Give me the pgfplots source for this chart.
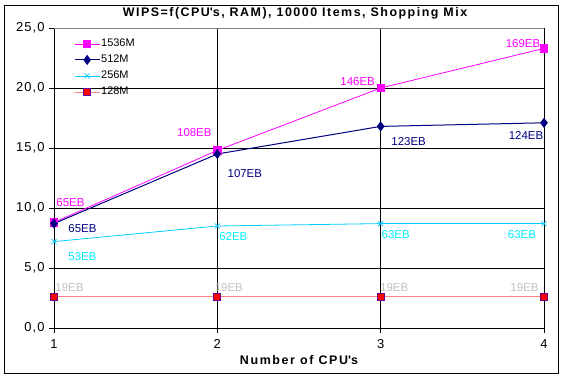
\documentclass[border=0pt]{standalone}
\usepackage{fontspec}
\setmainfont{Liberation Sans}
\usepackage{pgfplots}
\usepackage{pgfplotstable}
\pgfplotsset{compat=1.18}
\definecolor{cmag}{HTML}{FF00FF}
\definecolor{cnavy}{HTML}{000080}
\definecolor{ccyanl}{HTML}{00CCFF}
\definecolor{ccyant}{HTML}{00EEFF}
\definecolor{csalm}{HTML}{FF8080}
\definecolor{cred}{HTML}{FF0000}
\definecolor{cpurp}{HTML}{660099}
\definecolor{cgrayt}{HTML}{C0C0C0}
\definecolor{cborder}{HTML}{808080}
\newcommand\lbfont{\fontsize{11.5}{13}\selectfont}

\pgfplotstableread{
x y lab dx dy
1 8.8 65EB 16.5 20
2 14.8 108EB -23 18
3 20.0 146EB -23 6
4 23.3 169EB -21 5
}\tA
\pgfplotstableread{
x y lab dx dy
1 8.7 65EB 28.5 -5
2 14.5 107EB 27.5 -20
3 16.8 123EB 28 -15
4 17.1 124EB -18 -13
}\tB
\pgfplotstableread{
x y lab dx dy
1 7.2 53EB 28.5 -15
2 8.5 62EB 16 -11
3 8.7 63EB 15 -11
4 8.7 63EB -22 -11
}\tC
\pgfplotstableread{
x y lab dx dy
1 2.6 19EB 15.5 9
2 2.6 19EB 11.5 9
3 2.6 19EB 13.5 9
4 2.6 19EB -19.5 9
}\tD

\begin{document}
\begin{tikzpicture}
\begin{axis}[
  name=ax,
  scale only axis, width=490bp, height=300bp,
  xmin=1, xmax=4, ymin=0, ymax=25,
  xtick={1,2,3,4}, ytick={0,5,10,15,20,25},
  xmajorgrids, ymajorgrids,
  grid style={black, line width=0.8bp},
  axis x line*=bottom, axis y line*=left,
  axis line style={black, line width=0.8bp, -},
  tick style={black, line width=0.8bp},
  tick align=outside, major tick length=5bp,
  ticklabel style={font=\fontsize{13}{15}\selectfont\addfontfeature{LetterSpace=8}},
  xticklabel style={anchor=north, yshift=-3bp},
  yticklabel style={anchor=east, xshift=-1bp},
  yticklabel={\pgfmathprintnumber[fixed,fixed zerofill,precision=1,use comma,assume math mode=true]{\tick}},
  xticklabel={\pgfmathprintnumber[assume math mode=true]{\tick}},
  title={WIPS=f(CPU\textquotesingle s, RAM), 10000 Items, Shopping Mix},
  title style={at={(0.5,1)}, anchor=base, yshift=6bp, xshift=-4bp, font=\bfseries\fontsize{12.5}{14}\selectfont\addfontfeature{LetterSpace=12}},
  xlabel={Number of CPU\textquotesingle s},
  xlabel style={at={(0.5,0)}, anchor=center, yshift=-32bp, font=\bfseries\fontsize{12.5}{14}\selectfont\addfontfeature{LetterSpace=13}},
  legend style={draw=none, fill=none, at={(0,1)}, anchor=north west, xshift=17bp, yshift=-8bp,
    font=\fontsize{11}{12}\selectfont,
    nodes={inner sep=1bp, text height=7.5bp, text depth=2bp}, row sep=4.5bp},
  legend cell align=left,
  legend image code/.code={\draw[mark repeat=2,mark phase=2,#1] plot coordinates {(0bp,0bp) (12.5bp,0bp) (25bp,0bp)};},
]
\pgfplotsset{lbl/.style={nodes near coords,
  point meta=explicit symbolic,
  visualization depends on={\thisrow{dx}\as\dx},
  visualization depends on={\thisrow{dy}\as\dy},
  every node near coord/.append style={anchor=center, inner sep=0pt, xshift=\dx bp, yshift=\dy bp, font=\lbfont, text=#1}}}
\addplot[color=cmag, line width=0.8bp, mark=square*, mark size=3.6bp,
  mark options={solid, fill=cmag, draw=cmag}, lbl=cmag]
  table[x=x, y=y, meta=lab]{\tA};
\addlegendentry{1536M}
\addplot[color=cnavy, line width=1bp, mark=diamond*, mark size=4.3bp,
  mark options={solid, fill=cnavy, draw=cnavy}, lbl=cnavy]
  table[x=x, y=y, meta=lab]{\tB};
\addlegendentry{512M}
\addplot[color=ccyanl, line width=0.8bp, mark=x, mark size=3.5bp,
  mark options={solid, draw=ccyanl}, lbl=ccyant]
  table[x=x, y=y, meta=lab]{\tC};
\addlegendentry{256M}
\addplot[color=csalm, line width=0.8bp, mark=square*, mark size=3.5bp,
  mark options={solid, fill=cred, draw=cpurp}, lbl=cgrayt]
  table[x=x, y=y, meta=lab]{\tD};
\addlegendentry{128M}
\draw[cborder, line width=0.8bp] (rel axis cs:0,1) -- (rel axis cs:1,1);
\draw[cborder, line width=0.8bp] ([xshift=1.5bp]rel axis cs:1,1) -- ([xshift=1.5bp]rel axis cs:1,0);
\end{axis}
\draw[black, line width=0.8bp] ([shift={(-50bp,-45bp)}]ax.south west) rectangle ([shift={(14bp,23bp)}]ax.north east);
\pgfresetboundingbox
\useasboundingbox ([shift={(-54bp,-51bp)}]ax.south west) rectangle ([shift={(19bp,28bp)}]ax.north east);
\end{tikzpicture}
\end{document}
